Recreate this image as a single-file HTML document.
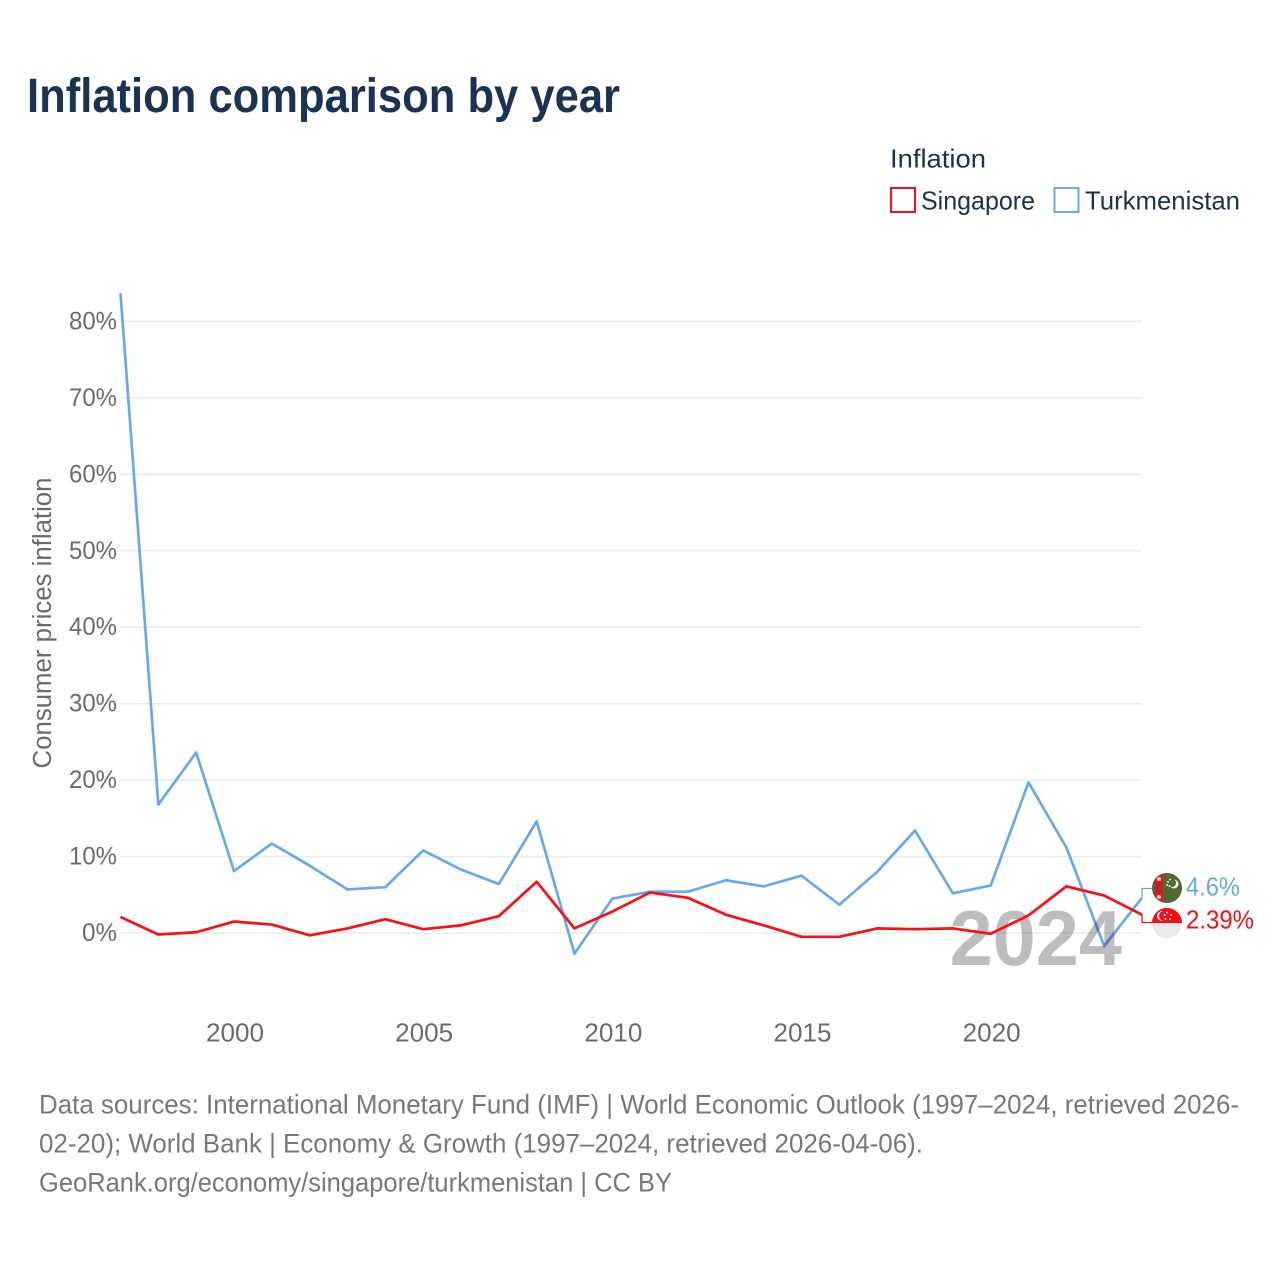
<!DOCTYPE html>
<html lang="en">
<head>
<meta charset="utf-8">
<title>Inflation comparison by year</title>
<style>
html,body{margin:0;padding:0;background:#fff;width:1280px;height:1280px;overflow:hidden}
svg{display:block}
text{font-family:"Liberation Sans",sans-serif}
</style>
</head>
<body>
<svg id="chart" xmlns="http://www.w3.org/2000/svg" width="1280" height="1280" viewBox="0 0 1280 1280">
  <rect x="0" y="0" width="1280" height="1280" fill="#ffffff"/>
  <text x="27" y="112" font-size="48" font-weight="700" fill="#1a3353" textLength="593" lengthAdjust="spacingAndGlyphs">Inflation comparison by year</text>

  <g>
    <text x="890" y="167.500" font-size="26" fill="#1a3353" textLength="96" lengthAdjust="spacingAndGlyphs">Inflation</text>
    <g>
      <rect x="891" y="188" width="24" height="24" fill="#fff" stroke="#ff0d14" stroke-width="2"/>
      <text x="921" y="209.500" font-size="26" fill="#1a3353" textLength="114" lengthAdjust="spacingAndGlyphs">Singapore</text>
    </g>
    <g>
      <rect x="1054.500" y="188" width="24" height="24" fill="#fff" stroke="#66aaee" stroke-width="2"/>
      <text x="1085" y="209.500" font-size="26" fill="#1a3353" textLength="155" lengthAdjust="spacingAndGlyphs">Turkmenistan</text>
    </g>
  </g>

  <text transform="translate(51,623) rotate(-90)" text-anchor="middle" font-size="25.500" fill="#6b6b6b" textLength="291" lengthAdjust="spacingAndGlyphs">Consumer prices inflation</text>

  <g id="grid"></g>
  <g id="yticks"></g>
  <g id="xticks"></g>

  <g id="seriesBack"></g>
  <text x="1122" y="965" text-anchor="end" font-size="77.500" font-weight="700" fill="#000000" fill-opacity="0.26">2024</text>
  <g id="series"></g>

  <g>
    <clipPath id="clipTm"><circle cx="1167" cy="888" r="15"/></clipPath>
    <g clip-path="url(#clipTm)">
      <rect x="1152" y="873" width="30" height="30" fill="#4d6b2e"/>
      <rect x="1155" y="873" width="8" height="30" fill="#f01020"/>
      <circle cx="1159" cy="879" r="2" fill="#e8e0d0"/>
      <circle cx="1159" cy="885" r="2" fill="#7a3a30"/>
      <circle cx="1159" cy="891" r="2" fill="#7a3a30"/>
      <circle cx="1159" cy="897" r="2" fill="#e8e0d0"/>
      <circle cx="1174" cy="884" r="4.500" fill="#f2f2ea"/>
      <circle cx="1172" cy="883" r="4" fill="#4d6b2e"/>
      <circle cx="1168" cy="882" r="1" fill="#e8e8e0"/>
      <circle cx="1170" cy="879.500" r="1" fill="#e8e8e0"/>
      <circle cx="1167" cy="885" r="1" fill="#e8e8e0"/>
      <circle cx="1169.500" cy="886" r="1" fill="#e8e8e0"/>
    </g>
  </g>
  <g>
    <clipPath id="clipSg"><circle cx="1167" cy="923" r="15"/></clipPath>
    <g clip-path="url(#clipSg)">
      <rect x="1152" y="908" width="30" height="15" fill="#fb0a14"/>
      <rect x="1152" y="923" width="30" height="15" fill="#e9e9e9"/>
      <circle cx="1162" cy="916" r="5" fill="#ffffff"/>
      <circle cx="1164" cy="916" r="5" fill="#fb0a14"/>
      <circle cx="1167" cy="912.500" r="1" fill="#fff"/>
      <circle cx="1171" cy="915" r="1" fill="#fff"/>
      <circle cx="1170" cy="919" r="1" fill="#fff"/>
      <circle cx="1165.500" cy="919" r="1" fill="#fff"/>
      <circle cx="1164.500" cy="915" r="1" fill="#fff"/>
    </g>
  </g>
  <text x="1186" y="895.500" font-size="26" fill="#66aaee" textLength="54" lengthAdjust="spacingAndGlyphs">4.6%</text>
  <text x="1186" y="928.500" font-size="26" fill="#ff0d14" textLength="68" lengthAdjust="spacingAndGlyphs">2.39%</text>

  <g>
    <text x="39" y="1113.500" font-size="27" fill="#787878" textLength="1200" lengthAdjust="spacingAndGlyphs">Data sources: International Monetary Fund (IMF) | World Economic Outlook (1997–2024, retrieved 2026-</text>
    <text x="39" y="1152.500" font-size="27" fill="#787878" textLength="884" lengthAdjust="spacingAndGlyphs">02-20); World Bank | Economy &amp; Growth (1997–2024, retrieved 2026-04-06).</text>
    <text x="39" y="1191.500" font-size="27" fill="#787878" textLength="633" lengthAdjust="spacingAndGlyphs">GeoRank.org/economy/singapore/turkmenistan | CC BY</text>
  </g>
</svg>
<script>
var years = [1997,1998,1999,2000,2001,2002,2003,2004,2005,2006,2007,2008,2009,2010,2011,2012,2013,2014,2015,2016,2017,2018,2019,2020,2021,2022,2023,2024];
var singapore = [2.1,-0.2,0.1,1.5,1.1,-0.3,0.6,1.8,0.5,1.0,2.2,6.7,0.6,2.8,5.3,4.6,2.4,1.0,-0.5,-0.5,0.6,0.5,0.6,-0.1,2.3,6.1,4.9,2.39];
var turkmenistan = [83.7,16.8,23.6,8.1,11.7,8.8,5.7,6.0,10.8,8.3,6.4,14.6,-2.7,4.5,5.4,5.4,6.9,6.1,7.5,3.7,8.0,13.4,5.2,6.2,19.7,11.2,-1.7,4.6];
var yTickValues = [0,10,20,30,40,50,60,70,80];
var xTickValues = [2000,2005,2010,2015,2020];

var svgNS = 'http://www.w3.org/2000/svg';
function xScale(year){ return 120.5 + (year - 1997) * (1142 - 120.5) / 27; }
function yScale(v){ return 933 - v * 7.645; }
function make(tag, attrs, parent){
  var el = document.createElementNS(svgNS, tag);
  for (var k in attrs) el.setAttribute(k, attrs[k]);
  parent.appendChild(el);
  return el;
}
var gridG = document.getElementById('grid');
var yG = document.getElementById('yticks');
var xG = document.getElementById('xticks');
var sG = document.getElementById('series');
var bG = document.getElementById('seriesBack');

yTickValues.forEach(function(v){
  var line = make('line', {x1:120, x2:1142, y1:yScale(v), y2:yScale(v), stroke:'#ececec', 'stroke-width':1.6}, gridG);
  
  
  var t = make('text', {x:117, y:yScale(v)+8, 'text-anchor':'end', 'font-size':25, fill:'#6b6b6b', textLength:(v===0?35:48), lengthAdjust:'spacingAndGlyphs'}, yG);
  
  
  t.textContent = v + '%';
});
xTickValues.forEach(function(y){
  var t = make('text', {x:xScale(y)+1, y:1041.5, 'text-anchor':'middle', 'font-size':25.5, fill:'#6b6b6b', textLength:58, lengthAdjust:'spacingAndGlyphs'}, xG);
  
  
  t.textContent = y;
});
function pathFor(values){
  return values.map(function(v,i){ return (i?'L':'M') + xScale(years[i]).toFixed(2) + ' ' + yScale(v).toFixed(2); }).join(' ');
}
var tmLine = make('path', {d:pathFor(turkmenistan), fill:'none', stroke:'#66aaee', 'stroke-width':2.7, 'stroke-linejoin':'round'}, bG);


var sgLine = make('path', {d:pathFor(singapore), fill:'none', stroke:'#ff0d14', 'stroke-width':2.7, 'stroke-linejoin':'round'}, sG);



var lastX = xScale(years[years.length-1]);
var tmConn = make('path', {d:'M'+lastX+' '+yScale(turkmenistan[turkmenistan.length-1])+' V888.500 H1152', fill:'none', stroke:'#66aaee', 'stroke-width':1.3}, sG);


var sgConn = make('path', {d:'M'+lastX+' '+yScale(singapore[singapore.length-1])+' V922.500 H1152', fill:'none', stroke:'#ff0d14', 'stroke-width':1.3}, sG);


</script>
</body>
</html>
